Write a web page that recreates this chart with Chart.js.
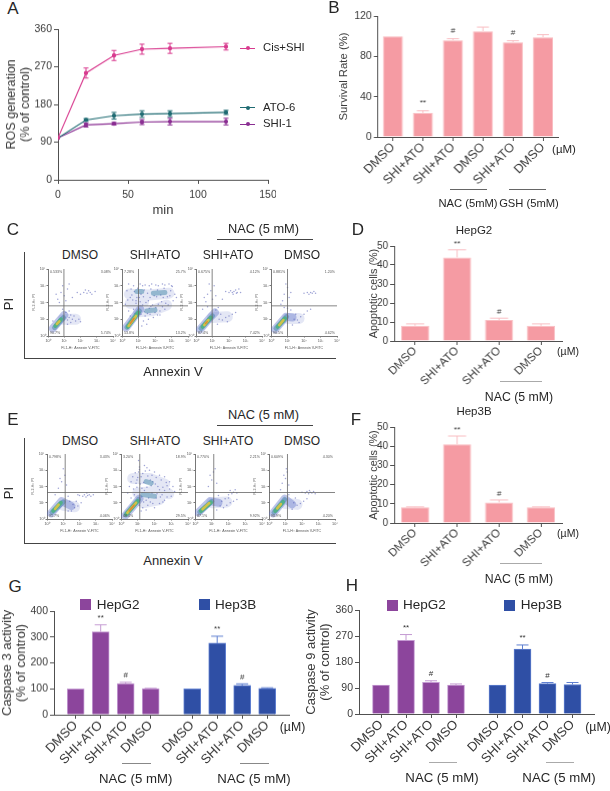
<!DOCTYPE html>
<html><head><meta charset="utf-8">
<script src="https://cdn.jsdelivr.net/npm/chart.js@4"></script>
<style>
html,body{margin:0;padding:0;background:#fff}
#page{position:relative;width:610px;height:791px;overflow:hidden;background:#fff;font-family:"Liberation Sans",Arial,sans-serif;color:#262626}
#page canvas{position:absolute}
.t{position:absolute;white-space:nowrap;transform:translate(-50%,-50%);line-height:1}
.l{position:absolute;white-space:nowrap;transform:translate(0,-50%);line-height:1}
.r{position:absolute}
</style></head><body><div id="page"></div>
<script>
/* ---------- data ---------- */
const rosMinutes=[0,20,40,60,80,120];
const rosCisShi=[100,255,297,312,314,318];
const rosCisShiErr=[0,12,12,12,12,8];
const rosAto=[100,143,153,157,158,161];
const rosAtoErr=[0,3,8,8,7,5];
const rosShi=[100,131,134,138,139,139];
const rosShiErr=[0,5,3,6,8,8];

const survivalCats=['DMSO','SHI+ATO','SHI+ATO','DMSO','SHI+ATO','DMSO'];
const survivalVals=[100,24,96,105,94,99];
const survivalErr=[0,2,1.5,4,1.5,2.5];
const survivalMarks=['','**','#','','#',''];

const apopCats=['DMSO','SHI+ATO','SHI+ATO','DMSO'];
const apopG2=[8,44,11,8];
const apopG2Err=[1,4,1,1];
const apopB3=[8.2,41,10.7,8.2];
const apopB3Err=[0.2,4.3,1.3,0.2];
const apopMarks=['','**','#',''];

const caspCats=['DMSO','SHI+ATO','SHI+ATO','DMSO','DMSO','SHI+ATO','SHI+ATO','DMSO'];
const caspSlots=[1,2,3,4,5.66,6.66,7.66,8.66];
const casp3G2=[100,320,120,101];
const casp3G2Err=[0,27,5,1];
const casp3B3=[100,276,113,102];
const casp3B3Err=[0,27,6,2];
const casp9G2=[100,255,110,100];
const casp9G2Err=[0,20,5,4];
const casp9B3=[100,225,105,102];
const casp9B3Err=[0,14,4,7];
const caspMarks=['','**','#',''];

/* flow cytometry, decades of fluorescence: runs of density, null = break */
const flowC1={gate:[0.98,1.8],quad:['0.533%','3.08%','90.7%','5.74%'],haze:[[0.95,1.0],[1.7,1.0]],
 blue:[[0.3,0.45],[1.0,1.25]],teal:[[0.4,0.5],[0.95,1.1]],green:[[0.45,0.6],[0.8,1.0]],yellow:[[0.55,0.72],[0.7,0.88]],orange:[],
 dust:[[0.6,2.2],[0.8,2.6],[0.9,3.0],[1.0,2.4],[1.1,2.1],[0.7,2.0],[1.2,2.8],[0.5,2.5],[1.3,3.1],[1.8,2.6],[2.0,2.5],[2.2,2.6],[2.4,2.55],[2.5,2.7],[2.6,2.6],[2.7,2.5],[2.3,2.75],[2.9,2.65],[1.5,2.3],[1.3,1.1],[1.5,1.0],[1.7,0.9],[1.9,1.0],[2.0,0.85],[1.4,0.8],[1.2,0.7],[1.6,1.2],[1.1,1.4],[1.3,1.5],[0.3,0.9],[0.9,1.6],[1.2,0.95],[1.4,1.25]]};
const flowC2={gate:[1.0,1.8],quad:['7.28%','25.7%','53.8%','13.2%'],
 haze:[[0.45,2.5],[1.6,2.45],[2.85,2.55],null,[1.0,1.45],[1.8,1.5],[2.7,1.85],null,[0.5,1.95],[1.3,2.0]],
 blue:[[0.25,0.5],[1.1,1.6]],teal:[[0.3,0.52],[1.05,1.5],null,[1.5,1.5],[2.0,1.55],null,[1.9,2.55],[2.6,2.6],null,[0.9,2.65],[1.2,2.65]],
 green:[[0.35,0.55],[1.0,1.4]],yellow:[[0.4,0.6],[0.85,1.2]],orange:[[0.5,0.75],[0.72,1.05]],
 dust:[[0.4,3.1],[0.7,3.0],[1.1,3.1],[1.4,3.05],[1.8,3.1],[2.2,3.0],[2.6,3.05],[3.0,3.0],[0.5,2.3],[0.9,2.3],[1.3,2.35],[1.7,2.3],[2.1,2.35],[2.5,2.3],[2.9,2.4],[3.2,2.5],[0.4,1.5],[0.7,1.6],[0.5,1.2],[1.4,1.2],[1.7,1.3],[2.0,1.4],[2.3,1.5],[2.6,1.6],[1.3,0.9],[1.6,1.0],[1.9,1.1],[2.3,1.25],[1.2,0.6],[1.5,0.7],[3.1,2.1],[3.3,2.3],[0.8,1.35],[0.3,2.7],[0.6,2.45],[1.1,2.05],[1.6,2.1],[2.2,1.9],[2.8,1.85],[3.05,2.95],[0.2,1.9],[1.0,1.65],
 [0.55,2.8],[0.75,2.65],[0.95,2.85],[1.15,2.5],[1.35,2.75],[1.55,2.55],[1.75,2.8],[1.95,2.4],[2.15,2.75],[2.35,2.45],[2.55,2.85],[2.75,2.35],[2.95,2.7],[0.35,2.15],[0.65,2.15],[0.85,1.95],[1.25,1.85],[1.45,2.0],[1.65,1.65],[1.85,1.85],[2.05,1.7],[2.4,2.05],[2.65,1.95],[1.15,1.3],[1.35,1.45],[1.55,1.35],[1.75,1.75],[2.15,1.25],[2.45,1.75],[0.85,2.1],[1.05,2.3],[1.25,3.0],[1.65,3.0],[2.05,3.05],[2.45,3.1],[2.85,3.1]]};
const flowC3={gate:[0.98,1.8],quad:['0.675%','4.12%','87.4%','7.42%'],haze:[[1.0,1.1],[1.9,1.15]],
 blue:[[0.25,0.4],[0.9,1.15],[1.15,1.4]],teal:[[0.3,0.45],[1.0,1.2]],green:[[0.4,0.55],[0.9,1.1]],yellow:[[0.5,0.65],[0.75,0.95]],orange:[[0.58,0.75],[0.68,0.85]],
 dust:[[0.5,2.3],[0.7,2.5],[0.9,2.7],[1.0,2.2],[1.1,3.0],[0.8,3.1],[1.2,2.4],[0.6,2.05],[1.8,2.65],[2.0,2.6],[2.1,2.7],[2.2,2.6],[2.3,2.65],[2.4,2.75],[2.5,2.6],[2.6,2.8],[2.7,2.6],[2.25,2.5],[2.45,2.55],[1.6,2.2],[1.4,1.0],[1.6,0.95],[1.8,1.1],[2.0,1.2],[2.2,1.3],[1.3,0.7],[1.5,1.3],[1.9,0.85],[2.4,1.4],[1.2,1.55],[1.35,1.7],[0.4,1.6],[0.7,1.75]]};
const flowC4={gate:[1.0,1.8],quad:['0.881%','1.20%','90.5%','4.62%'],haze:[[1.0,1.05],[1.7,1.05]],
 blue:[[0.25,0.4],[0.9,1.15],[1.3,1.1]],teal:[[0.3,0.45],[0.95,1.15]],green:[[0.4,0.55],[0.85,1.05]],yellow:[[0.5,0.65],[0.75,0.95]],orange:[],
 dust:[[0.7,2.1],[0.8,2.5],[1.0,2.9],[1.1,2.3],[0.9,3.1],[1.2,2.6],[0.6,1.9],[2.0,2.55],[2.2,2.6],[2.4,2.6],[2.5,2.55],[2.6,2.65],[2.7,2.55],[2.3,2.5],[1.4,1.0],[1.6,0.95],[1.8,1.15],[2.0,1.3],[2.2,1.5],[1.5,1.3],[1.7,0.8],[1.3,0.65],[2.4,1.6],[1.2,1.55],[1.0,1.65],[0.8,1.7]]};
const flowE1={gate:[1.12,1.63],quad:['0.798%','3.43%','91.7%','4.06%'],haze:[[1.0,0.85],[1.7,0.75]],
 blue:[[0.25,0.35],[0.9,1.1],[1.5,0.8]],teal:[[0.3,0.4],[1.0,1.05]],green:[[0.38,0.5],[0.85,1.0]],yellow:[[0.5,0.62],[0.72,0.88]],orange:[],
 dust:[[0.7,1.9],[0.9,2.3],[1.1,2.7],[1.0,3.1],[0.8,2.5],[1.2,2.1],[1.9,1.5],[2.0,1.45],[2.2,1.4],[2.3,1.5],[2.4,1.35],[2.5,1.45],[2.6,1.5],[2.7,1.4],[2.45,1.6],[1.4,1.1],[1.6,0.9],[1.7,0.7],[1.9,0.8],[1.8,1.1],[1.3,0.5],[1.5,0.5],[2.1,1.0],[1.3,1.4],[0.5,1.5],[2.85,1.5]]};
const flowE2={gate:[1.12,1.63],quad:['3.20%','18.9%','48.4%','29.5%'],
 haze:[[0.7,2.5],[1.7,2.5],[2.6,2.15],null,[1.0,1.6],[2.0,1.7],[2.85,1.55],null,[1.3,1.0],[2.3,1.2]],
 blue:[[0.25,0.2],[1.1,1.25]],teal:[[0.28,0.25],[1.05,1.2],null,[1.3,1.5],[2.0,1.4],null,[1.5,2.3],[1.8,2.2]],
 green:[[0.32,0.3],[1.0,1.1]],yellow:[[0.38,0.38],[0.9,1.0]],orange:[[0.5,0.5],[0.78,0.85]],
 dust:[[0.6,2.3],[0.9,2.2],[1.1,3.2],[1.4,3.3],[1.7,3.0],[2.0,2.9],[2.3,2.7],[2.6,2.6],[2.9,2.3],[3.1,2.0],[0.7,2.6],[1.0,2.55],[1.3,2.8],[1.9,2.3],[2.2,2.0],[2.5,1.95],[2.9,1.85],[0.4,1.6],[0.6,1.3],[0.8,1.5],[1.3,0.7],[1.6,0.85],[1.9,0.95],[2.3,0.95],[2.6,1.15],[3.0,1.4],[1.2,0.5],[1.5,0.55],[2.0,0.7],[3.2,1.7],[1.5,1.15],[1.8,2.05],[2.35,1.35],[0.5,2.0],[2.7,2.25],
 [0.85,2.85],[1.05,2.9],[1.2,2.6],[1.45,2.95],[1.6,2.65],[1.85,2.7],[2.1,2.55],[2.4,2.4],[2.75,2.05],[0.75,1.85],[0.95,1.95],[1.15,2.15],[1.35,2.25],[1.55,1.95],[1.75,2.4],[2.05,2.15],[2.3,1.8],[2.6,1.75],[1.2,1.35],[1.4,1.75],[1.65,1.3],[1.85,1.6],[2.1,1.3],[2.45,1.5],[2.75,1.35],[1.1,0.85],[1.35,1.05],[1.75,1.05],[2.15,1.55],[2.5,1.05],[1.05,3.6],[1.1,3.05],[1.55,3.15],[0.95,2.4],[1.25,1.9]]};
const flowE3={gate:[1.12,1.63],quad:['0.770%','2.21%','87.1%','9.92%'],haze:[[1.0,1.0],[1.9,1.05]],
 blue:[[0.2,0.4],[0.9,1.1],[1.4,1.0]],teal:[[0.28,0.42],[1.0,1.08]],green:[[0.35,0.5],[0.95,1.02]],yellow:[[0.45,0.6],[0.85,0.98]],orange:[],
 dust:[[0.8,2.0],[1.0,2.4],[1.1,2.9],[1.2,3.1],[0.9,2.7],[1.3,2.2],[2.0,1.5],[2.2,1.55],[2.3,1.65],[2.4,1.8],[2.5,1.6],[2.1,1.75],[1.5,0.8],[1.7,0.7],[1.9,0.85],[2.1,1.0],[2.3,1.1],[1.6,1.1],[1.8,1.25],[2.0,1.3],[1.4,1.45],[1.3,0.55],[2.5,1.2]]};
const flowE4={gate:[1.12,1.63],quad:['0.609%','4.30%','90.9%','4.20%'],haze:[[1.0,0.95],[1.7,0.9]],
 blue:[[0.25,0.35],[0.95,1.25],[1.4,0.9]],teal:[[0.3,0.4],[0.95,1.2]],green:[[0.38,0.5],[0.85,1.05]],yellow:[[0.5,0.65],[0.72,0.92]],orange:[],
 dust:[[0.7,1.8],[0.8,2.2],[1.0,2.5],[1.1,2.9],[1.05,3.1],[0.9,2.7],[1.2,2.1],[2.0,1.65],[2.2,1.6],[2.3,1.7],[2.4,1.55],[2.5,1.65],[2.6,1.6],[2.7,1.7],[2.8,1.55],[2.45,1.75],[1.5,1.0],[1.7,0.85],[1.9,0.95],[2.1,1.1],[2.3,1.25],[1.6,1.3],[1.4,0.6],[1.2,1.5]]};

const fontFam='"Liberation Sans",Arial,sans-serif';
const ink='#3a3a3a', axisInk='#505050';
const pink='#d83a8e', teal='#1f6b72', violet='#8a2e92';
const rose='#f59ba3', roseEdge='#f9bdc2';
const plum='#8c459c', plumEdge='#c49ad2', navy='#2f4fa5', navyEdge='#5f7fd0';
const page=document.getElementById('page');

/* ---------- static text and rules ---------- */
function text(x,y,s,size,o={}){const d=document.createElement('div');d.className=o.left?'l':'t';d.textContent=s;
 d.style.left=x+'px';d.style.top=y+'px';d.style.fontSize=size+'px';
 if(o.rot)d.style.transform='translate(-50%,-50%) rotate('+o.rot+'deg)';page.appendChild(d);return d;}
function rule(x,y,w,h,c){const d=document.createElement('div');d.className='r';d.style.cssText+='left:'+x+'px;top:'+y+'px;width:'+w+'px;height:'+h+'px;background:'+c;page.appendChild(d);}

/* ---------- plugin: error bars and significance marks ---------- */
const errPlugin={id:'errs',afterDatasetsDraw(chart){const c=chart.ctx;
 chart.data.datasets.forEach((ds,i)=>{if(!ds.err)return;const m=chart.getDatasetMeta(i);
  const ys=chart.scales.y;
  m.data.forEach((el,j)=>{const e=ds.err[j];const v=typeof ds.data[j]==='object'?ds.data[j].y:ds.data[j];
   const px=el.x,top=ys.getPixelForValue(v+e),bot=ys.getPixelForValue(v-(ds.both?e:0)),base=ys.getPixelForValue(v);
   if(e>0){c.save();c.strokeStyle=ds.errColor;c.lineWidth=1;c.beginPath();
    c.moveTo(px,ds.both?bot:base);c.lineTo(px,top);
    c.moveTo(px-ds.cap,top);c.lineTo(px+ds.cap,top);
    if(ds.both){c.moveTo(px-ds.cap,bot);c.lineTo(px+ds.cap,bot);}c.stroke();c.restore();}
   if(ds.marks&&ds.marks[j]){c.save();c.fillStyle='#333';c.font='8px '+fontFam;c.textAlign='center';c.textBaseline='middle';
    c.fillText(ds.marks[j],px,top-(ds.markGap||7));c.restore();}
  });});
}};
const quadPlugin={id:'quad',afterDraw(chart){const q=chart.options.plugins.quad;if(!q||!q.labels)return;
 const c=chart.ctx,a=chart.chartArea;c.save();c.font='3.6px '+fontFam;c.fillStyle='#555';c.textBaseline='middle';
 c.textAlign='left';c.fillText(q.labels[0],a.left+2,a.top+3);c.fillText(q.labels[2],a.left+2,a.bottom-3);
 c.textAlign='right';c.fillText(q.labels[1],a.right-2,a.top+3);c.fillText(q.labels[3],a.right-2,a.bottom-3);c.restore();}};
Chart.register(errPlugin,quadPlugin);

/* ---------- generic chart placement ---------- */
function frame(plot,pad){const cv=document.createElement('canvas');const w=pad.L+plot.w+pad.R,h=pad.T+plot.h+pad.B;
 cv.width=w;cv.height=h;cv.style.left=(plot.x-pad.L)+'px';cv.style.top=(plot.y-pad.T)+'px';cv.style.width=w+'px';cv.style.height=h+'px';page.appendChild(cv);return cv;}
const fitX=B=>s=>{s.height=B;s.paddingLeft=0;s.paddingRight=0;};
const fitY=L=>s=>{s.width=L;s.paddingTop=0;s.paddingBottom=0;};
function axisCommon(size,tick){return{grid:{drawOnChartArea:false,drawTicks:true,tickLength:tick||4,color:axisInk,offset:false},
 border:{color:axisInk,width:1},ticks:{color:ink,font:{family:fontFam,size:size},padding:2}};}
function make(plot,pad,type,datasets,labels,xOpt,yOpt,extra){
 const cv=frame(plot,pad);
 xOpt.afterFit=fitX(pad.B);yOpt.afterFit=fitY(pad.L);
 return new Chart(cv.getContext('2d'),{type,data:{labels,datasets},options:Object.assign({responsive:false,animation:false,devicePixelRatio:1,
  layout:{padding:{left:0,right:pad.R,top:pad.T,bottom:0}},
  plugins:Object.assign({legend:{display:false},tooltip:{enabled:false}},extra||{}),
  scales:{x:xOpt,y:yOpt}},{})});
}
function yAxis(max,step,size,title,titleSize,titlePad){const a=axisCommon(size);a.min=0;a.max=max;a.ticks.stepSize=step;
 a.title={display:true,text:title,color:ink,font:{family:fontFam,size:titleSize,lineHeight:1.1},padding:{top:titlePad,bottom:0}};return a;}
function catAxis(size){const a=axisCommon(size);a.ticks.minRotation=45;a.ticks.maxRotation=45;a.ticks.autoSkip=false;a.ticks.padding=-1;return a;}

/* ---------- A: ROS time course ---------- */
function rosSet(vals,err,col){return{label:'',data:vals.map((v,i)=>({x:rosMinutes[i],y:v})),err,both:true,cap:2.5,errColor:col,borderColor:col,backgroundColor:col,borderWidth:1.1,pointRadius:1.6,tension:0};}
{const x=axisCommon(10.5,4);x.type='linear';x.min=0;x.max=150;x.ticks.stepSize=50;x.ticks.padding=5;
 x.title={display:true,text:'min',color:ink,font:{family:fontFam,size:13,lineHeight:1.1},padding:0};
 make({x:58,y:29.3,w:210,h:150.7},{L:58,T:10,R:8,B:38},'line',
  [rosSet(rosCisShi,rosCisShiErr,pink),rosSet(rosAto,rosAtoErr,teal),rosSet(rosShi,rosShiErr,violet)],undefined,x,
  yAxis(360,90,10.5,['ROS generation','(% of control)'],12.5,5));
 [[48,pink,'Cis+SHI'],[107.7,teal,'ATO-6'],[124.3,violet,'SHI-1']].forEach(r=>{rule(240,r[0]-.5,15,1,r[1]);
  const d=document.createElement('div');d.className='r';d.style.cssText+='left:245.5px;top:'+(r[0]-2)+'px;width:4px;height:4px;border-radius:2px;background:'+r[1];page.appendChild(d);
  text(263,r[0],r[2],11.3,{left:true});});
 text(13,8,'A',17);}

/* ---------- B: survival ---------- */
{const x=catAxis(12.5);
 make({x:377.7,y:16,w:180,h:121.3},{L:39.7,T:8,R:6,B:50},'bar',
 [{data:survivalVals,backgroundColor:rose,borderColor:roseEdge,borderWidth:1,barPercentage:.667,categoryPercentage:1,err:survivalErr,cap:6,errColor:roseEdge,marks:survivalMarks,markGap:8}],
 survivalCats,x,yAxis(120,40,10.5,'Survival Rate (%)',11.3,0));
 text(334,7,'B',17);text(564,150,'(µM)',11.5);
 rule(450,188.5,37,1,'#666');rule(509,188.5,37,1,'#666');
 text(468,204,'NAC (5mM)',11.2);text(529,204,'GSH (5mM)',11.2);}

/* ---------- D, F: apoptosis ---------- */
function apop(py,ph,vals,err){const x=catAxis(11.5);
 make({x:394.3,y:py,w:167.4,h:ph},{L:26,T:10,R:6,B:45},'bar',
 [{data:vals,backgroundColor:rose,borderColor:roseEdge,borderWidth:1,barPercentage:.67,categoryPercentage:1,err,cap:9,errColor:roseEdge,marks:apopMarks,markGap:6.5}],
 apopCats,x,yAxis(50,10,10,'Apoptotic cells (%)',10.8,0));}
apop(245.7,95.6,apopG2,apopG2Err);
apop(427.3,96,apopB3,apopB3Err);
text(358,229,'D',17);text(474,231,'HepG2',11.5);text(568,351,'(µM)',10.5);
rule(500,380.5,41.7,1.2,'#aaa');text(519,397,'NAC (5 mM)',12.3);
text(356,419,'F',17);text(474,412,'Hep3B',11.5);text(568,533,'(µM)',10.5);
rule(500,563,41.7,1.2,'#aaa');text(519,579,'NAC (5 mM)',12.3);

/* ---------- G, H: caspases ---------- */
function casp(plot,L,yMax,yStep,title,tPad,g2,g2e,b3,b3e){
 const x=axisCommon(13);x.type='linear';x.offset=false;x.min=1-(caspSlots[0]*25-25+(plot.bar0-plot.x))/25;x.max=x.min+plot.w/25;
 x.ticks.minRotation=45;x.ticks.maxRotation=45;x.ticks.autoSkip=false;x.ticks.padding=-1;
 x.afterBuildTicks=s=>{s.ticks=caspSlots.map(v=>({value:v}));};
 x.ticks.callback=(v,i)=>caspCats[i];
 const mk=(vals,err,col,edge,from)=>({data:vals.map((v,i)=>({x:caspSlots[from+i],y:v})),backgroundColor:col,borderColor:edge,borderWidth:1,barThickness:17,grouped:false,err,cap:6,errColor:edge,marks:caspMarks});
 make(plot,{L,T:8,R:16,B:50},'bar',[mk(g2,g2e,plum,plumEdge,0),mk(b3,b3e,navy,navyEdge,4)],undefined,x,
  yAxis(yMax,yStep,10.5,title,13,tPad));
}
casp({x:54,y:611.3,w:235,h:103.7,bar0:75.7},54,400,100,['Caspase 3 activity','(% of control)'],0,casp3G2,casp3G2Err,casp3B3,casp3B3Err);
casp({x:359,y:610,w:235,h:104.3,bar0:381},55,360,90,['Caspase 9 activity','(% of control)'],0,casp9G2,casp9G2Err,casp9B3,casp9B3Err);
text(15,586,'G',17);text(352,585,'H',17);
rule(80,599,11,11,plum);text(96.7,604.5,'HepG2',13.5,{left:true});
rule(199,599,11,11,navy);text(215,604.5,'Hep3B',13.5,{left:true});
rule(386.7,600,11,11,plum);text(403,605,'HepG2',13.5,{left:true});
rule(504,600,11,11,navy);text(520.7,605,'Hep3B',13.5,{left:true});
text(292.5,727,'(µM)',12.3);text(598,727,'(µM)',12.3);
rule(122,763,29,1,'#888');rule(240,763,29,1,'#888');rule(429,762,28,1,'#aaa');rule(546,762,28,1,'#aaa');
text(135.7,779,'NAC (5 mM)',13.2);text(254,779,'NAC (5 mM)',13.2);text(442,778,'NAC (5 mM)',13.2);text(559,778,'NAC (5 mM)',13.2);

/* ---------- C, E: flow cytometry ---------- */
const sup=['10⁰','10¹','10²','10³','10⁴'];
function pts(a){return a.map(p=>p?{x:p[0],y:p[1]}:{x:NaN,y:NaN});}
function run(a,col,w){return{type:'line',data:pts(a),borderColor:col,borderWidth:w,borderCapStyle:'round',borderJoinStyle:'round',pointRadius:0,tension:0,spanGaps:false};}
function flow(plot,p){
 const ax=()=>{const a=axisCommon(3.8,1.5);a.min=0;a.max=4;a.ticks.stepSize=1;a.ticks.padding=1;a.ticks.color='#555';a.ticks.callback=v=>sup[v];a.border.color='#777';a.grid.color='#777';return a;};
 const x=ax(),y=ax();
 x.type='linear';y.type='linear';
 x.title={display:true,text:'FL1-H:: Annexin V-FITC',color:'#555',font:{family:fontFam,size:3.6,lineHeight:1.1},padding:1};
 y.title={display:true,text:'FL2-H:: PI',color:'#555',font:{family:fontFam,size:3.6,lineHeight:1.1},padding:{top:1,bottom:0}};
 const ds=[
  {type:'line',data:[{x:p.gate[0],y:0},{x:p.gate[0],y:4}],borderColor:'#666',borderWidth:.8,pointRadius:0},
  {type:'line',data:[{x:0,y:p.gate[1]},{x:4,y:p.gate[1]}],borderColor:'#666',borderWidth:.8,pointRadius:0},
  run(p.orange,'#dd8a33',1.6),run(p.yellow,'#cfc24a',2.6),run(p.green,'#52b08a',4),run(p.teal,'rgba(50,125,160,.45)',5),
  {type:'scatter',data:pts(p.dust),backgroundColor:'rgba(80,90,180,.55)',borderWidth:0,pointRadius:.75},
  run(p.blue,'rgba(90,110,200,.4)',8),
  run(p.haze,'rgba(95,115,195,.17)',11)
 ];
 const c=make(plot,{L:17,T:3,R:3,B:15},'line',ds,undefined,x,y,{quad:{labels:p.quad}});
 c.canvas.style.filter='blur(.5px)';
}
flow({x:47.7,y:267.7,w:66.3,h:68},flowC1);flow({x:122,y:267.7,w:67,h:68},flowC2);flow({x:196,y:267.7,w:67,h:68},flowC3);flow({x:271,y:267.7,w:67,h:68},flowC4);
flow({x:46.7,y:452.7,w:66.6,h:66.3},flowE1);flow({x:120.7,y:452.7,w:68.3,h:66.3},flowE2);flow({x:195,y:452.7,w:68,h:66.3},flowE3);flow({x:269,y:452.7,w:67,h:66.3},flowE4);
function flowHead(ly,hy,ny,ry,top,bot,py,ay){
 text(13,ly,ly<300?'C':'E',17);
 text(263.5,ny,'NAC (5 mM)',12.8);rule(217,ry,96,1,'#444');
 [[80,'DMSO'],[155,'SHI+ATO'],[228,'SHI+ATO'],[302,'DMSO']].forEach(h=>text(h[0],hy,h[1],12));
 rule(24,top,1,bot-top,'#444');rule(24,bot,312,1,'#444');
 text(8,py,'PI',13,{rot:-90});text(173,ay,'Annexin V',13);
}
flowHead(229,255,229,239,252,358,304,371);
flowHead(419,441,415,425,438,543,493,560);
</script></body></html>
